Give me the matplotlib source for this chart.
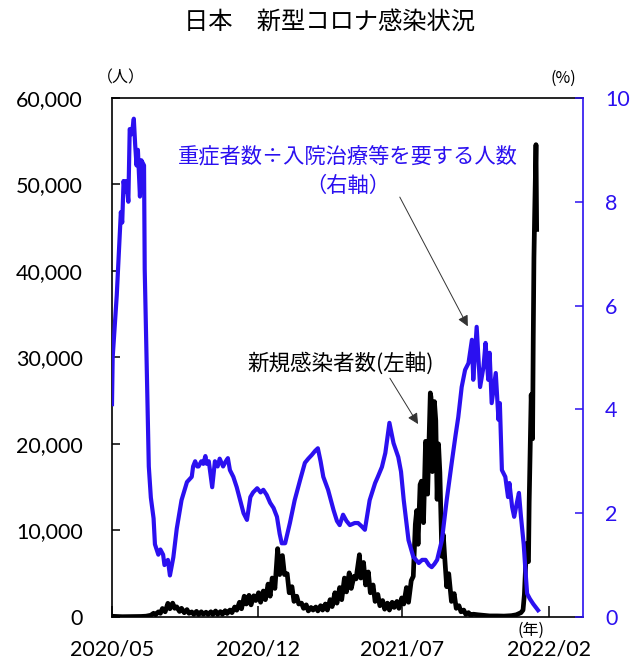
import pandas as pd
import matplotlib
matplotlib.use("Agg")
import matplotlib.pyplot as plt
from matplotlib.ticker import FuncFormatter

plt.rcParams['font.family'] = ['Lato', 'Noto Sans CJK JP', 'DejaVu Sans']
JP = ['Noto Sans CJK JP', 'DejaVu Sans']
BLUE = '#2b10f0'

# daily new cases (left axis)
case_dates = [
    "2020-05-10", "2020-05-25", "2020-06-08", "2020-06-22", "2020-06-29",
    "2020-07-06", "2020-07-10", "2020-07-13", "2020-07-17", "2020-07-20",
    "2020-07-23", "2020-07-27", "2020-07-31", "2020-08-03", "2020-08-07",
    "2020-08-10", "2020-08-13", "2020-08-17", "2020-08-20", "2020-08-24",
    "2020-08-28", "2020-08-31", "2020-09-04", "2020-09-07", "2020-09-11",
    "2020-09-14", "2020-09-18", "2020-09-21", "2020-09-25", "2020-09-28",
    "2020-10-02", "2020-10-05", "2020-10-09", "2020-10-12", "2020-10-16",
    "2020-10-19", "2020-10-23", "2020-10-26", "2020-10-30", "2020-11-02",
    "2020-11-06", "2020-11-09", "2020-11-13", "2020-11-16", "2020-11-20",
    "2020-11-23", "2020-11-27", "2020-11-30", "2020-12-04", "2020-12-07",
    "2020-12-11", "2020-12-14", "2020-12-18", "2020-12-21", "2020-12-25",
    "2020-12-28", "2020-12-31", "2021-01-04", "2021-01-08", "2021-01-11",
    "2021-01-15", "2021-01-18", "2021-01-22", "2021-01-25", "2021-01-29",
    "2021-02-01", "2021-02-05", "2021-02-08", "2021-02-12", "2021-02-15",
    "2021-02-19", "2021-02-22", "2021-02-26", "2021-03-01", "2021-03-05",
    "2021-03-08", "2021-03-12", "2021-03-15", "2021-03-19", "2021-03-22",
    "2021-03-26", "2021-03-29", "2021-04-02", "2021-04-05", "2021-04-09",
    "2021-04-12", "2021-04-16", "2021-04-19", "2021-04-23", "2021-04-26",
    "2021-04-30", "2021-05-03", "2021-05-08", "2021-05-10", "2021-05-14",
    "2021-05-17", "2021-05-21", "2021-05-24", "2021-05-28", "2021-05-31",
    "2021-06-04", "2021-06-07", "2021-06-11", "2021-06-14", "2021-06-18",
    "2021-06-21", "2021-06-25", "2021-06-28", "2021-07-02", "2021-07-05",
    "2021-07-09", "2021-07-12", "2021-07-16", "2021-07-19", "2021-07-23",
    "2021-07-26", "2021-07-29", "2021-07-31", "2021-08-02", "2021-08-05",
    "2021-08-07", "2021-08-10", "2021-08-13", "2021-08-14", "2021-08-16",
    "2021-08-20", "2021-08-21", "2021-08-23", "2021-08-26", "2021-08-28",
    "2021-08-30", "2021-09-01", "2021-09-03", "2021-09-06", "2021-09-08",
    "2021-09-10", "2021-09-13", "2021-09-16", "2021-09-20", "2021-09-24",
    "2021-09-27", "2021-10-01", "2021-10-04", "2021-10-08", "2021-10-11",
    "2021-10-15", "2021-10-18", "2021-10-22", "2021-10-29", "2021-11-05",
    "2021-11-15", "2021-11-26", "2021-12-06", "2021-12-17", "2021-12-24",
    "2021-12-31", "2022-01-03", "2022-01-05", "2022-01-07", "2022-01-08",
    "2022-01-10", "2022-01-11", "2022-01-12", "2022-01-14", "2022-01-15",
    "2022-01-17", "2022-01-18", "2022-01-19", "2022-01-20", "2022-01-22",
    "2022-01-23",
]
case_counts = [
    80, 30, 40, 60, 90,
    200, 430, 260, 590, 420,
    980, 600, 1580, 950, 1600,
    1000, 1170, 640, 1000, 490,
    850, 420, 580, 300, 650,
    270, 600, 320, 550, 300,
    600, 290, 690, 300, 620,
    310, 730, 400, 800, 500,
    1150, 780, 1700, 950, 2400,
    1500, 2500, 1400, 2450, 1900,
    2800, 1700, 3000, 2000, 3800,
    2400, 4500, 3300, 7900, 4900,
    7100, 4900, 5000, 2800, 3500,
    1800, 2400, 1500, 1600, 1000,
    1400, 700, 1100, 800, 1150,
    700, 1300, 800, 1500, 800,
    2000, 1200, 2800, 1600, 3400,
    2000, 4500, 2900, 5100, 3300,
    4700, 4400, 7200, 4500, 6300,
    3700, 5200, 2800, 3700, 1800,
    2600, 1300, 1900, 900, 1600,
    800, 1700, 1100, 1800, 1000,
    2200, 1500, 3400, 1700, 4200,
    4700, 10700, 12300, 8400, 15300,
    15700, 10900, 20300, 20100, 14200,
    25900, 25400, 16800, 24900, 22700,
    13600, 20000, 16700, 7000, 9500,
    7000, 3500, 5000, 1800, 2700,
    1000, 1300, 600, 800, 300,
    500, 200, 320, 250, 200,
    120, 120, 100, 150, 250,
    500, 800, 2600, 6200, 8500,
    6400, 6400, 13200, 22000, 25700,
    20600, 32200, 41500, 46200, 54600,
    44800,
]

# severe cases / people requiring hospital treatment, % (right axis)
ratio_dates = [
    "2020-05-10", "2020-05-11", "2020-05-14", "2020-05-17", "2020-05-20",
    "2020-05-23", "2020-05-25", "2020-05-27", "2020-05-29", "2020-05-31",
    "2020-06-03", "2020-06-05", "2020-06-08", "2020-06-11", "2020-06-13",
    "2020-06-15", "2020-06-17", "2020-06-20", "2020-06-22", "2020-06-26",
    "2020-06-27", "2020-06-30", "2020-07-03", "2020-07-06", "2020-07-10",
    "2020-07-12", "2020-07-17", "2020-07-20", "2020-07-24", "2020-07-26",
    "2020-07-29", "2020-07-31", "2020-08-03", "2020-08-08", "2020-08-13",
    "2020-08-20", "2020-08-28", "2020-09-04", "2020-09-06", "2020-09-09",
    "2020-09-12", "2020-09-14", "2020-09-18", "2020-09-21", "2020-09-24",
    "2020-09-26", "2020-09-29", "2020-10-04", "2020-10-08", "2020-10-12",
    "2020-10-15", "2020-10-20", "2020-10-24", "2020-10-27", "2020-10-30",
    "2020-11-04", "2020-11-09", "2020-11-14", "2020-11-19", "2020-11-24",
    "2020-11-29", "2020-12-03", "2020-12-09", "2020-12-14", "2020-12-18",
    "2020-12-23", "2020-12-28", "2021-01-02", "2021-01-07", "2021-01-11",
    "2021-01-14", "2021-01-19", "2021-01-26", "2021-02-02", "2021-02-10",
    "2021-02-17", "2021-02-22", "2021-02-27", "2021-03-04", "2021-03-08",
    "2021-03-12", "2021-03-16", "2021-03-23", "2021-03-31", "2021-04-05",
    "2021-04-09", "2021-04-14", "2021-04-19", "2021-04-24", "2021-05-01",
    "2021-05-06", "2021-05-11", "2021-05-16", "2021-05-23", "2021-05-31",
    "2021-06-04", "2021-06-10", "2021-06-15", "2021-06-21", "2021-06-27",
    "2021-07-04", "2021-07-08", "2021-07-12", "2021-07-19", "2021-07-26",
    "2021-08-03", "2021-08-08", "2021-08-13", "2021-08-18", "2021-08-22",
    "2021-08-26", "2021-08-30", "2021-09-06", "2021-09-13", "2021-09-21",
    "2021-09-26", "2021-09-30", "2021-10-05", "2021-10-10", "2021-10-15",
    "2021-10-20", "2021-10-22", "2021-10-27", "2021-11-01", "2021-11-06",
    "2021-11-09", "2021-11-13", "2021-11-15", "2021-11-18", "2021-11-24",
    "2021-11-28", "2021-11-30", "2021-12-03", "2021-12-08", "2021-12-12",
    "2021-12-14", "2021-12-18", "2021-12-21", "2021-12-25", "2021-12-28",
    "2021-12-31", "2022-01-04", "2022-01-06", "2022-01-09", "2022-01-13",
    "2022-01-18", "2022-01-25",
]
ratio_pct = [
    4.1, 5.0, 5.6, 6.2, 7.0,
    7.8, 7.6, 8.4, 8.2, 8.4,
    8.0, 9.4, 9.3, 9.6, 9.1,
    8.7, 9.0, 8.1, 8.8, 8.7,
    6.7, 4.8, 2.9, 2.3, 1.9,
    1.4, 1.2, 1.3, 1.2, 1.0,
    1.05, 1.1, 0.8, 1.15, 1.7,
    2.25, 2.6, 2.7, 2.9, 3.0,
    2.9, 2.9, 3.0, 2.95, 3.1,
    2.95, 3.0, 2.5, 3.0, 2.9,
    3.05, 2.9, 3.0, 3.06, 2.83,
    2.7, 2.5, 2.25, 2.0, 1.87,
    2.31, 2.4, 2.48, 2.4, 2.45,
    2.35, 2.2, 2.1, 1.93, 1.6,
    1.42, 1.42, 1.81, 2.25, 2.64,
    2.97, 3.05, 3.12, 3.2, 3.25,
    3.0, 2.7, 2.45, 2.06, 1.85,
    1.77, 1.97, 1.85, 1.77, 1.81,
    1.81, 1.75, 1.68, 2.25, 2.58,
    2.7, 2.89, 3.16, 3.74, 3.35,
    3.08, 2.8, 2.25, 1.48, 1.16,
    1.04, 1.1, 1.1, 1.0, 0.96,
    1.02, 1.1, 1.48, 2.25, 3.03,
    3.5, 3.85, 4.43, 4.76, 4.89,
    5.34, 4.57, 5.59, 4.43, 4.82,
    5.28, 4.57, 5.09, 4.12, 4.70,
    3.80, 4.12, 2.83, 2.70, 2.31,
    2.58, 2.12, 1.93, 2.20, 2.39,
    1.93, 1.4, 1.0, 0.45, 0.35,
    0.25, 0.13,
]

tick_dates = ["2020-05-10", "2020-12-10", "2021-07-10", "2022-02-10"]
tick_labels = ["2020/05", "2020/12", "2021/07", "2022/02"]
left_ticks = [0, 10000, 20000, 30000, 40000, 50000, 60000]
right_ticks = [0, 2, 4, 6, 8, 10]

fig = plt.figure(figsize=(6.44, 6.60), dpi=100)
ax = fig.add_axes([0.1739, 0.0652, 0.7314, 0.7864])
ax2 = ax.twinx()

ax.plot(pd.to_datetime(case_dates), case_counts, color='black', lw=3.4)
ax2.plot(pd.to_datetime(ratio_dates), ratio_pct, color=BLUE, lw=3.0)

ax.set_xlim(pd.Timestamp("2020-05-10"), pd.Timestamp("2022-04-01"))
ax.set_ylim(0, 60000)
ax2.set_ylim(0, 10)

ax.set_xticks(pd.to_datetime(tick_dates))
ax.set_xticklabels(tick_labels)
ax.set_yticks(left_ticks)
ax.yaxis.set_major_formatter(FuncFormatter(lambda v, p: f"{int(v):,}"))
ax2.set_yticks(right_ticks)

ax.tick_params(axis='y', direction='in', length=6, width=1.1,
               labelsize=15.5, pad=21)
ax.tick_params(axis='x', direction='in', length=8, width=1.1,
               labelsize=15.5, pad=16)
ax2.tick_params(axis='y', direction='in', length=6, width=1.1, color=BLUE,
                labelcolor=BLUE, labelsize=15.5, pad=16)

for side in ['left', 'top', 'bottom']:
    ax.spines[side].set_linewidth(1.2)
    ax2.spines[side].set_visible(False)
ax.spines['right'].set_visible(False)
ax2.spines['right'].set_color(BLUE)
ax2.spines['right'].set_linewidth(1.2)

# unit labels
ax.text(0.019, 1.0385, "（人）", transform=ax.transAxes, ha='center',
        va='center', fontsize=11.5, family=JP)
ax.text(0.958, 1.0385, "(%)", transform=ax.transAxes, ha='center',
        va='center', fontsize=11.5, family=JP)
ax.text(0.890, -0.025, "(年)", transform=ax.transAxes, ha='center',
        va='center', fontsize=11.5, family=JP)

# series labels with arrows
ax.text(0.501, 0.886, "重症者数÷入院治療等を要する人数", transform=ax.transAxes,
        ha='center', va='center', fontsize=15.3, color=BLUE, family=JP)
ax.text(0.501, 0.830, "（右軸）", transform=ax.transAxes,
        ha='center', va='center', fontsize=15.3, color=BLUE, family=JP)
ax2.annotate("", xy=(pd.Timestamp("2021-10-14"), 5.6),
             xytext=(0.611, 0.809), textcoords='axes fraction',
             arrowprops=dict(arrowstyle='-|>', color='#333333', lw=0.7,
                             mutation_scale=16, shrinkA=0, shrinkB=0))

ax.text(0.486, 0.489, "新規感染者数(左軸)", transform=ax.transAxes,
        ha='center', va='center', fontsize=15.5, color='black', family=JP)
ax.annotate("", xy=(pd.Timestamp("2021-08-02"), 22300),
            xytext=(0.590, 0.460), textcoords='axes fraction',
            arrowprops=dict(arrowstyle='-|>', color='#333333', lw=0.7,
                            mutation_scale=16, shrinkA=0, shrinkB=0))

fig.text(0.511, 0.967, "日本　新型コロナ感染状況", ha='center', va='center',
         fontsize=17.5, family=JP)

fig.savefig("out.png", dpi=100)
